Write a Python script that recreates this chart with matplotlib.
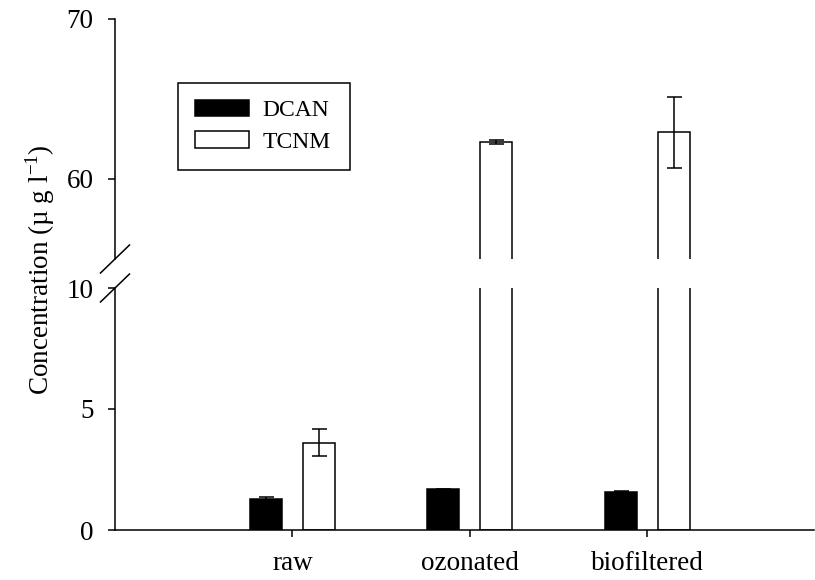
import numpy as np
import matplotlib
matplotlib.use("Agg")
import matplotlib.pyplot as plt
from matplotlib.lines import Line2D

plt.rcParams['font.family'] = ['Liberation Serif', 'DejaVu Serif']

# data: mean concentration and error for each treatment
categories = ['raw', 'ozonated', 'biofiltered']
dcan = [1.28, 1.68, 1.58]
dcan_err = [0.07, 0.03, 0.03]
tcnm = [3.6, 62.32, 62.92]
tcnm_err = [0.56, 0.12, 2.23]

x = np.arange(1, len(categories) + 1)
width = 0.18
offset = 0.15

fig = plt.figure(figsize=(8.15, 5.8), dpi=100)
left, right = 115 / 815, 814 / 815
ax_top = fig.add_axes([left, 1 - 259 / 580, right - left, 240 / 580])
ax_bot = fig.add_axes([left, 1 - 530 / 580, right - left, 242 / 580])

for ax in (ax_top, ax_bot):
    ax.bar(x - offset, dcan, width, color='black', edgecolor='black', linewidth=1.1,
           label='DCAN', zorder=2)
    ax.bar(x + offset, tcnm, width, color='white', edgecolor='black', linewidth=1.1,
           label='TCNM', zorder=2)
    ax.errorbar(x - offset, dcan, yerr=dcan_err, fmt='none', ecolor='black',
                elinewidth=1.1, capsize=5.4, capthick=1.1, zorder=3)
    ax.errorbar(x + offset, tcnm, yerr=tcnm_err, fmt='none', ecolor='black',
                elinewidth=1.1, capsize=5.4, capthick=1.1, zorder=3)
    ax.set_xlim(0, 3.94)
    ax.spines['top'].set_visible(False)
    ax.spines['right'].set_visible(False)
    ax.spines['left'].set_linewidth(1.1)
    ax.spines['bottom'].set_linewidth(1.1)
    ax.tick_params(axis='y', direction='out', length=5, width=1.1, pad=10.5, labelsize=19.5)
    ax.tick_params(axis='x', direction='out', length=5, width=1.1, pad=10, labelsize=19.5)

# upper part of the broken axis
ax_top.set_ylim(55, 70)
ax_top.set_yticks([60, 70])
ax_top.spines['bottom'].set_visible(False)
ax_top.tick_params(axis='x', bottom=False, labelbottom=False)

# lower part
ax_bot.set_ylim(0, 10)
ax_bot.set_yticks([0, 5, 10])
ax_bot.set_xticks(x)
ax_bot.set_xticklabels(categories)

# slashes marking the break
dx, dy = 14.5 / 815, 14 / 580
for yc in (1 - 259 / 580, 1 - 288 / 580):
    fig.add_artist(Line2D([left - dx, left + dx], [yc - dy, yc + dy],
                          transform=fig.transFigure, color='black', linewidth=1.1))

fig.text(40 / 815, 0.535, 'Concentration (\u00b5 g l$^{\\mathregular{-1}}$)',
         rotation=90, ha='center', va='center', fontsize=19.5)

# legend box stretched to a fixed width
leg_w, leg_h = 172 / 699, 86 / 240
leg = ax_top.legend(loc='upper left', bbox_to_anchor=(0.090, 0.733 - leg_h, leg_w, leg_h),
                    mode='expand', borderaxespad=0, fancybox=False, edgecolor='black',
                    framealpha=1, fontsize=17, handlelength=2.3, handleheight=0.68,
                    handletextpad=0.55, borderpad=0.72, labelspacing=0.42)
leg.get_frame().set_linewidth(1.1)

fig.savefig('out.png', dpi=100)
